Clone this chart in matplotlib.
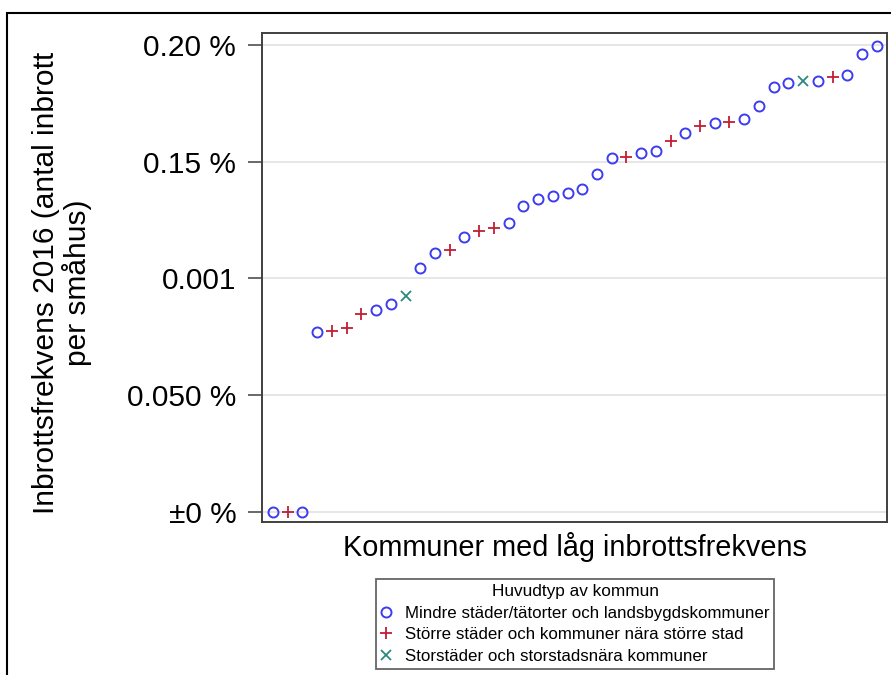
import matplotlib
matplotlib.use("Agg")
import matplotlib.pyplot as plt
from matplotlib.patches import Rectangle
from matplotlib.lines import Line2D

plt.rcParams['font.family'] = ['Liberation Sans', 'DejaVu Sans']

# Data: one value per kommun, sorted ascending; type code per kommun
values = [0.0, 0.0, 0.0, 0.000769, 0.000774, 0.000786, 0.000846, 0.000863,
          0.000889, 0.000923, 0.001043, 0.001107, 0.001120, 0.001179,
          0.001205, 0.001214, 0.001239, 0.001312, 0.001342, 0.001355,
          0.001368, 0.001385, 0.001449, 0.001517, 0.001521, 0.001538,
          0.001547, 0.001590, 0.001624, 0.001654, 0.001667, 0.001671,
          0.001684, 0.001739, 0.001821, 0.001838, 0.001846, 0.001846,
          0.001863, 0.001872, 0.001962, 0.001996]
types = ['M', 'S', 'M', 'M', 'S', 'S', 'S', 'M', 'M', 'X', 'M', 'M', 'S', 'M',
         'S', 'S', 'M', 'M', 'M', 'M', 'M', 'M', 'M', 'M', 'S', 'M', 'M', 'S',
         'M', 'S', 'M', 'S', 'M', 'M', 'M', 'M', 'X', 'M', 'S', 'M', 'M', 'M']
type_labels = {
    'M': 'Mindre städer/tätorter och landsbygdskommuner',
    'S': 'Större städer och kommuner nära större stad',
    'X': 'Storstäder och storstadsnära kommuner',
}
yticks = [0.0, 0.0005, 0.001, 0.0015, 0.002]
ytick_labels = ['±0 %', '0.050 %', '0.001', '0.15 %', '0.20 %']
legend_title = 'Huvudtyp av kommun'
xlabel = 'Kommuner med låg inbrottsfrekvens'
ylabel = 'Inbrottsfrekvens 2016 (antal inbrott\nper småhus)'

styles = {
    'M': dict(marker='o', mfc='none', mec='#3c3cf0', ms=7.2, mew=1.4),
    'S': dict(marker='+', color='#c21f35', ms=8, mew=1.3),
    'X': dict(marker='x', color='#2b8a7c', ms=6.5, mew=1.3),
}

fig = plt.figure(figsize=(8.91, 6.75), dpi=100)
ax = fig.add_axes([262/891, 1 - 522/675, (887-262)/891, (522-33)/675])

positions = list(range(1, len(values) + 1))
for code in ['M', 'S', 'X']:
    xs = [p for p, t in zip(positions, types) if t == code]
    ys = [v for v, t in zip(values, types) if t == code]
    ax.plot(xs, ys, linestyle='none', label=type_labels[code], zorder=3,
            **styles[code])

ax.set_xlim(0.25, len(values) + 0.7)
ax.set_ylim(-0.0000427, 0.002051)
ax.set_yticks(yticks)
ax.set_yticklabels(ytick_labels)
ax.set_xticks([])
ax.yaxis.grid(True, color='#e2e2e2', lw=1.2, zorder=0)
ax.set_axisbelow(True)
ax.tick_params(axis='y', direction='out', length=10, width=1.1,
               color='#404040', labelsize=21.5, pad=8.5)
for s in ax.spines.values():
    s.set_color('#404040')
    s.set_linewidth(1.4)

ax.set_xlabel(xlabel, fontsize=20.8, labelpad=7)
ax.set_ylabel(ylabel, fontsize=21.5, linespacing=1.1)
ax.yaxis.set_label_coords((92 - 262) / 625, 0.49)

handles = [Line2D([], [], linestyle='none', **styles[c]) for c in ['M', 'S', 'X']]
leg = fig.legend(handles, [type_labels[c] for c in ['M', 'S', 'X']],
                 title=legend_title, loc='upper center',
                 bbox_to_anchor=(575/891, 1 - 579/675), fontsize=12.2,
                 title_fontsize=12.4, frameon=True, fancybox=False,
                 handlelength=0.7, handletextpad=0.75, borderpad=0.28,
                 labelspacing=0.4, borderaxespad=0)
leg.get_frame().set_edgecolor('#404040')
leg.get_frame().set_linewidth(1.3)

fig.add_artist(Rectangle((6.5/891, -0.1), 1.2, (675 - 12.5)/675 + 0.1,
                         transform=fig.transFigure, fill=False,
                         ec='black', lw=1.5))

fig.savefig('out.png', dpi=100)
